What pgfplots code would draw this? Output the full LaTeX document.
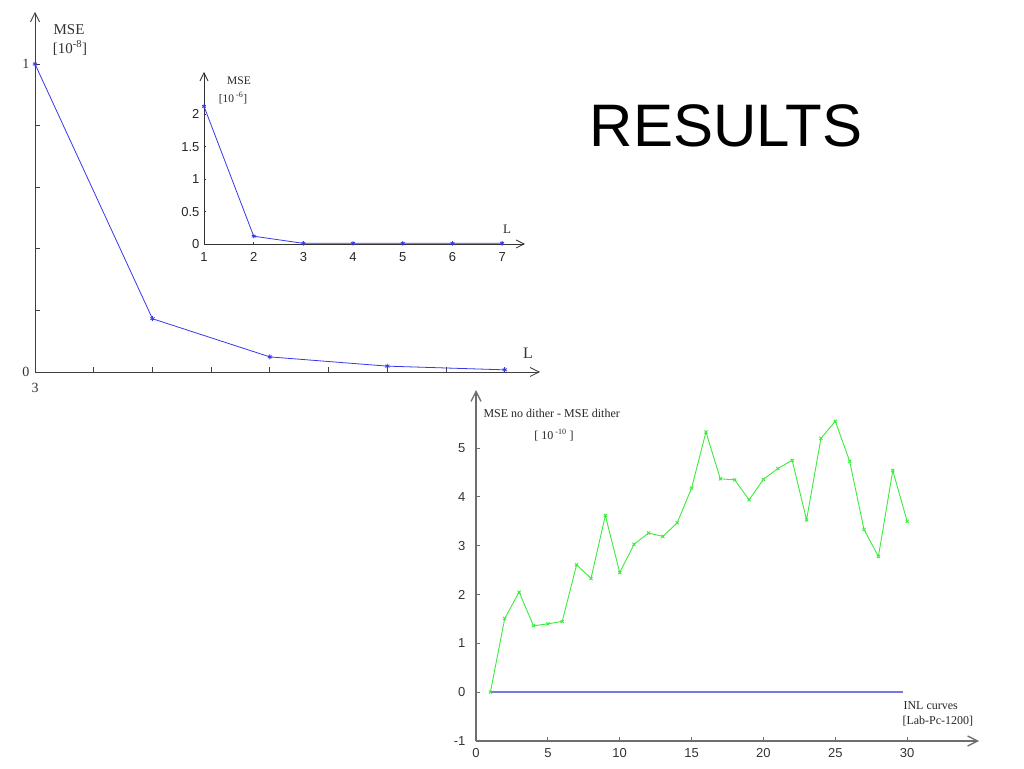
\documentclass[border=0pt]{standalone}
\usepackage{pgfplots}
\pgfplotsset{compat=1.18}
\usepackage{fontspec}
\setmainfont{Liberation Serif}
\newfontfamily\arial{Liberation Sans}
\usetikzlibrary{arrows.meta}
\definecolor{bl}{RGB}{55,55,235}
\definecolor{bl2}{RGB}{120,120,225}
\definecolor{gr}{RGB}{60,235,60}
\definecolor{ax3}{RGB}{110,110,110}
\begin{document}
\begin{tikzpicture}
\path[use as bounding box] (0,0) rectangle (1024pt,768pt);
% ---------- main plot (L = 3..7) ----------
\begin{axis}[at={(35pt,396pt)}, anchor=south west, scale only axis,
  width=505pt, height=360pt,
  xmin=3, xmax=7.30, ymin=0, ymax=1.169,
  axis lines=left,
  axis line style={draw=black!75, line width=0.8pt, -{Straight Barb[length=9pt,width=9pt]}},
  tick style={draw=black!75, line width=0.8pt},
  tick align=inside, major tick length=5pt,
  xtick={3,3.5,4,4.5,5,5.5,6,6.5,7}, xticklabels={3,,,,,,,,},
  ytick={0,0.2,0.4,0.6,0.8,1}, yticklabels={0,,,,,1},
  /pgf/number format/assume math mode=true,
  ticklabel style={font=\fontsize{14}{14}\selectfont, text=black!80},
  xticklabel style={yshift=-8pt}, yticklabel style={xshift=-2pt},
  clip=false]
\addplot[color=bl, line width=0.8pt, mark=asterisk, mark size=2.5pt] coordinates {
 (3,1.0) (4,0.173) (5,0.049) (6,0.019) (7,0.007)};
\end{axis}
\node[font=\fontsize{15}{15}\selectfont, text=black!80] at (69pt,738pt) {MSE};
\node[font=\fontsize{15}{15}\selectfont, text=black!80] at (70pt,720pt) {[10\textsuperscript{-8}]};
\node[font=\fontsize{16}{16}\selectfont, text=black!80] at (528pt,415pt) {L};
% ---------- inset (L = 1..7) ----------
\begin{axis}[at={(204pt,524pt)}, anchor=south west, scale only axis,
  width=321pt, height=172pt,
  xmin=1, xmax=7.46, ymin=0, ymax=2.65,
  axis lines=left,
  axis line style={draw=black!80, line width=0.8pt, -{Straight Barb[length=8pt,width=8pt]}},
  tick style={draw=black!80, line width=0.6pt},
  tick align=inside, major tick length=2pt,
  xtick={1,2,3,4,5,6,7}, ytick={0,0.5,1,1.5,2},
  /pgf/number format/assume math mode=true,
  ticklabel style={font=\arial\fontsize{13}{13}\selectfont, text=black!85},
  xticklabel style={yshift=-5pt}, yticklabel style={xshift=-1pt},
  clip=false]
\addplot[color=bl, line width=0.8pt, mark=asterisk, mark size=2.2pt] coordinates {
 (1,2.12) (2,0.12) (3,0.01) (4,0.01) (5,0.01) (6,0.01) (7,0.01)};
\end{axis}
\node[font=\fontsize{11.5}{11.5}\selectfont, text=black!85] at (239pt,687pt) {MSE};
\node[font=\fontsize{11.5}{11.5}\selectfont, text=black!85] at (233pt,670pt) {[10\,\textsuperscript{-6}]};
\node[font=\fontsize{13}{13}\selectfont, text=black!85] at (507pt,539pt) {L};
% ---------- dither plot ----------
\begin{axis}[at={(476pt,27pt)}, anchor=south west, scale only axis,
  width=503pt, height=351pt,
  xmin=0, xmax=35, ymin=-1, ymax=6.19,
  axis lines=left,
  axis line style={draw=ax3, line width=1.3pt, -{Straight Barb[length=10pt,width=10pt]}},
  tick style={draw=ax3, line width=1pt},
  tick align=inside, major tick length=4pt,
  xtick={0,5,10,15,20,25,30}, ytick={-1,0,1,2,3,4,5},
  /pgf/number format/assume math mode=true,
  ticklabel style={font=\arial\fontsize{13}{13}\selectfont, text=black!80},
  xticklabel style={yshift=-4pt}, yticklabel style={xshift=-7pt},
  clip=false]
\addplot[color=bl2, line width=1.6pt, no marks] coordinates {(1,0) (29.7,0)};
\addplot[color=gr, line width=0.9pt, mark=x, mark size=2.2pt] coordinates {
 (1,0) (2,1.51) (3,2.05) (4,1.36) (5,1.40) (6,1.45) (7,2.61) (8,2.33) (9,3.62) (10,2.45)
 (11,3.03) (12,3.26) (13,3.19) (14,3.47) (15,4.18) (16,5.33) (17,4.37) (18,4.35) (19,3.94) (20,4.36)
 (21,4.58) (22,4.75) (23,3.53) (24,5.20) (25,5.55) (26,4.73) (27,3.33) (28,2.78) (29,4.54) (30,3.50)};
\end{axis}
\node[anchor=west, font=\fontsize{12}{12}\selectfont, text=black!85] at (480pt,355pt) {MSE no dither - MSE dither};
\node[font=\fontsize{12}{12}\selectfont, text=black!85] at (554pt,333pt) {[ 10\,\textsuperscript{-10} ]};
\node[anchor=west, font=\fontsize{12}{12}\selectfont, text=black!85] at (900pt,62pt) {INL curves};
\node[anchor=west, font=\fontsize{12}{12}\selectfont, text=black!85] at (899pt,47pt) {[Lab-Pc-1200]};
% ---------- title ----------
\node[font=\arial\fontsize{60}{60}\selectfont] at (726pt,642pt) {RESULTS};
\end{tikzpicture}
\end{document}
